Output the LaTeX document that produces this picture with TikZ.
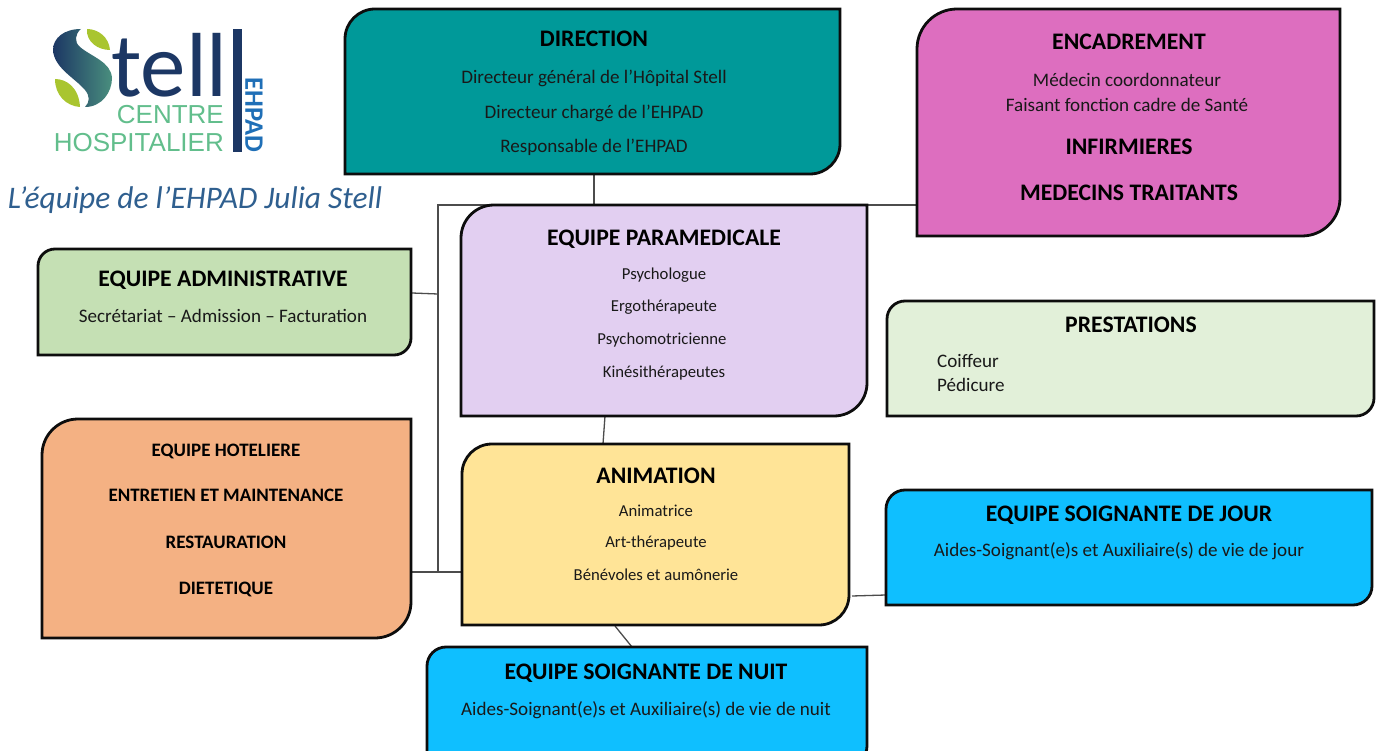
\documentclass[tikz,border=0pt]{standalone}
\usepackage{fontspec}
\setmainfont{Carlito}
\newfontfamily\logosans{Liberation Sans}
\usetikzlibrary{calc}
\definecolor{cdir}{HTML}{009999}
\definecolor{cenc}{HTML}{DD6EBF}
\definecolor{cpar}{HTML}{E2CFF1}
\definecolor{cadm}{HTML}{C5E0B4}
\definecolor{cpre}{HTML}{E2F0D9}
\definecolor{chot}{HTML}{F4B183}
\definecolor{cani}{HTML}{FFE497}
\definecolor{csoi}{HTML}{0FBFFF}
\definecolor{cnavy}{HTML}{1C3764}
\definecolor{cgrn}{HTML}{62BE8C}
\definecolor{cleaf}{HTML}{A9C52F}
\definecolor{cblue}{HTML}{1F6FB7}
\definecolor{csub}{HTML}{2F5F8F}
\tikzset{
  x=1pt,y=-1pt,
  boxshape/.style={draw=black!95,line width=2.8pt,fill=#1},
  anchorbox/.style={inner sep=0pt,outer sep=0pt},
  uniform/.style={inner sep=0pt,text height=7pt,text depth=2pt},
  head/.style={font=\fontsize{23.7}{26}\selectfont\bfseries,text=black,uniform,yshift=-6pt},
  headsm/.style={font=\fontsize{19}{22}\selectfont\bfseries,text=black,uniform,yshift=-4.5pt},
  body/.style={font=\fontsize{19.1}{22}\selectfont,text=black!90,uniform,yshift=-4pt},
  small/.style={font=\fontsize{16.7}{20}\selectfont,text=black!90,uniform,yshift=-3pt},
  link/.style={draw=black!70,line width=1.3pt},
}
% name, x1, y1, x2, y2, r(tl), r(br), colour
\newcommand{\teambox}[8]{%
  \draw[boxshape=#8] (#2+#6,#3) -- (#4,#3) -- (#4,#5-#7) arc[start angle=0,end angle=-90,x radius=#7,y radius=-#7]
     -- (#2,#5) -- (#2,#3+#6) arc[start angle=180,end angle=90,x radius=#6,y radius=-#6] -- cycle;
  \node[anchorbox,minimum width=#4-#2,minimum height=#5-#3] (#1) at ({(#2+#4)/2},{(#3+#5)/2}) {};
}
\begin{document}
\begin{tikzpicture}
\useasboundingbox (0,0) rectangle (1382,751);
\clip (0,0) rectangle (1382,751);
\fill[white] (0,0) rectangle (1382,751);

% named junctions
\coordinate (jtop) at (438,205);
\coordinate (jmid) at (438,294);
\coordinate (jbot) at (438,572);
\coordinate (eL) at (916,205);
\coordinate (dS) at (594,175);
\coordinate (dE) at (594,205);
\coordinate (pS) at (605,416);
\coordinate (aN) at (603,444);
\coordinate (aS) at (615,626);
\coordinate (nN) at (632,647);
\coordinate (aE) at (852,596);
\coordinate (jW) at (886,595);
\coordinate (admE) at (412,293);
\coordinate (hotE) at (412,572);
\coordinate (aniW) at (462,572);

% connectors (under the boxes)
\draw[link] (eL) -- (jtop) -- (jbot);
\draw[link] (hotE) -- (aniW);
\draw[link] (admE) -- (jmid);
\draw[link] (dS) -- (dE);
\draw[link] (pS) -- (aN);
\draw[link] (aS) -- (nN);
\draw[link] (aE) -- (jW);

% boxes
\teambox{direction}{345}{9}{840}{174}{30}{30}{cdir}
\teambox{encadr}{917}{9}{1340}{236}{40}{38}{cenc}
\teambox{para}{461}{205}{867}{416}{33}{33}{cpar}
\teambox{admin}{38}{249}{411}{355}{17}{17}{cadm}
\teambox{prest}{887}{301}{1374}{416}{18}{18}{cpre}
\teambox{hotel}{42}{419}{411}{638}{36}{36}{chot}
\teambox{anim}{462}{444}{849}{625}{30}{30}{cani}
\teambox{jour}{886}{490}{1372}{605}{19}{19}{csoi}
\teambox{nuit}{427}{647}{867}{765}{19}{19}{csoi}

% texts
\node[head] (t1) at (594,38) {DIRECTION};
\node[body] (t2) at (594,77) {Directeur général de l’Hôpital Stell};
\node[body] (t3) at (594,112) {Directeur chargé de l’EHPAD};
\node[body] (t4) at (594,146) {Responsable de l’EHPAD};

\node[head] (t5) at (1129,41) {ENCADREMENT};
\node[body] (t6) at (1127,80) {Médecin coordonnateur};
\node[body] (t7) at (1127,105) {Faisant fonction cadre de Santé};
\node[head] (t8) at (1129,146) {INFIRMIERES};
\node[head] (t9) at (1129,192) {MEDECINS TRAITANTS};

\node[head] (t10) at (664,237) {EQUIPE PARAMEDICALE};
\node[small] (t11) at (664,274) {Psychologue};
\node[small] (t12) at (664,306) {Ergothérapeute};
\node[small] (t13) at (662,339) {Psychomotricienne};
\node[small] (t14) at (664,372) {Kinésithérapeutes};

\node[head] (t15) at (223,278) {EQUIPE ADMINISTRATIVE};
\node[body] (t16) at (223,316) {Secrétariat – Admission – Facturation};

\node[head] (t17) at (1131,324) {PRESTATIONS};
\node[body,anchor=west] (t18) at (937,361) {Coiffeur};
\node[body,anchor=west] (t19) at (937,385) {Pédicure};

\node[headsm] (t20) at (226,449) {EQUIPE HOTELIERE};
\node[headsm] (t21) at (226,494) {ENTRETIEN ET MAINTENANCE};
\node[headsm] (t22) at (226,541) {RESTAURATION};
\node[headsm] (t23) at (226,587) {DIETETIQUE};

\node[head] (t24) at (656,475) {ANIMATION};
\node[small] (t25) at (656,511) {Animatrice};
\node[small] (t26) at (656,542) {Art-thérapeute};
\node[small] (t27) at (656,575) {Bénévoles et aumônerie};

\node[head] (t28) at (1129,513) {EQUIPE SOIGNANTE DE JOUR};
\node[body] (t29) at (1119,550) {Aides-Soignant(e)s et Auxiliaire(s) de vie de jour};

\node[head] (t30) at (646,671) {EQUIPE SOIGNANTE DE NUIT};
\node[body] (t31) at (646,709) {Aides-Soignant(e)s et Auxiliaire(s) de vie de nuit};

\node[font=\fontsize{31.4}{34}\selectfont\itshape,text=csub,inner sep=0pt] (sub) at (195,200) {L’équipe de l’EHPAD Julia Stell};

% logo
\shade[left color=cnavy,right color=cgrn!65!cnavy]
  (81,29) .. controls (64,29) and (53,38) .. (53,50)
  .. controls (54,68) and (75,78) .. (85,90)
  .. controls (90,96) and (90,102) .. (85,107)
  .. controls (102,107) and (112,92) .. (112,78)
  .. controls (111,62) and (92,57) .. (80,47)
  .. controls (74,42) and (75,34) .. (81,29) -- cycle;
\fill[cleaf] (87,29) .. controls (98,29) and (109,37) .. (110,50) .. controls (98,50) and (86,42) .. (87,29) -- cycle;
\fill[cleaf] (55,79) .. controls (67,79) and (79,88) .. (80,107) .. controls (66,106) and (55,95) .. (55,79) -- cycle;
\node[font=\fontsize{91}{95}\selectfont,text=cnavy,inner sep=0pt,text depth=0pt,anchor=base west] (logotell) at (111,97) {tell};
\fill[cnavy] (233,29) rectangle (242,152);
\node[font=\logosans\fontsize{26}{30}\selectfont,text=cgrn,inner sep=0pt,anchor=base east] (logoc) at (224,124) {CENTRE};
\node[font=\logosans\fontsize{26}{30}\selectfont,text=cgrn,inner sep=0pt,anchor=base east] (logoh) at (224,152) {HOSPITALIER};
\node[font=\fontsize{26.6}{28}\selectfont\bfseries,text=cblue,inner sep=0pt,rotate=-90] (logoe) at (254,115) {EHPAD};
\end{tikzpicture}
\end{document}
